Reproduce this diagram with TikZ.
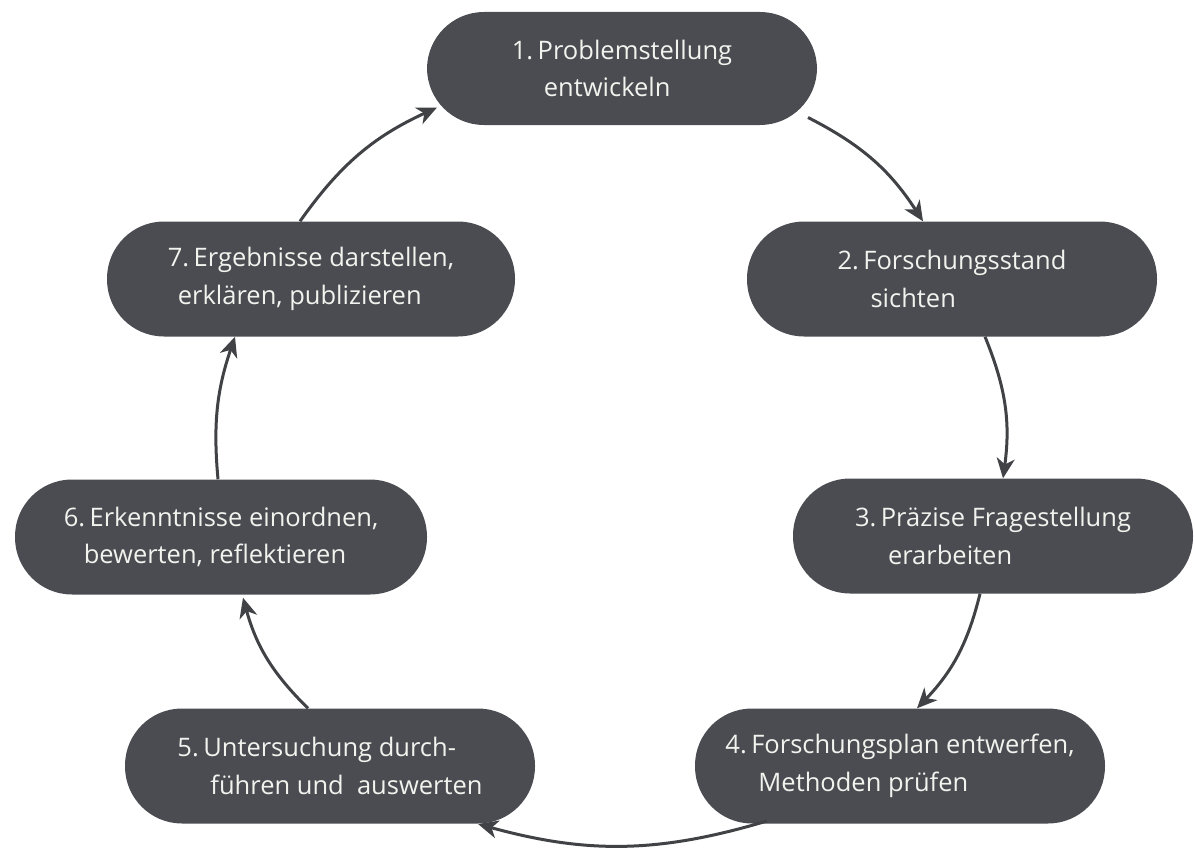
\documentclass[tikz,border=0pt]{standalone}
\usepackage{fontspec}
\setmainfont{Open Sans}
\usetikzlibrary{arrows.meta,calc}
\definecolor{boxfill}{HTML}{4A4C51}
\definecolor{arrowcol}{HTML}{404246}
\definecolor{txtcol}{HTML}{F2F2EE}
\newcommand{\nsp}{\kern4.5pt}
\tikzset{
  stepbox/.style={fill=boxfill, draw=none, rectangle, rounded corners=57pt,
    minimum height=115pt, text=txtcol, align=left, inner sep=0pt,
    font=\fontsize{25.5}{37.5}\selectfont},
  flow/.style={draw=arrowcol, line width=3pt,
    -{Stealth[length=20pt,width=18pt,inset=6pt]}}
}
\begin{document}
\begin{tikzpicture}[x=1pt,y=-1pt]
\useasboundingbox (0,0) rectangle (1195,851);
\node[stepbox, minimum width=390pt, minimum height=113pt] (n1) at (622,68.5) {1.\nsp Problemstellung\\\hspace*{32pt}entwickeln};
\node[stepbox, minimum width=410pt] (n2) at (952,279) {2.\nsp Forschungsstand\\\hspace*{33pt}sichten};
\node[stepbox, minimum width=400pt] (n3) at (993,536) {3.\nsp Präzise Fragestellung\\\hspace*{33pt}erarbeiten};
\node[stepbox, minimum width=410pt] (n4) at (900,766) {4.\nsp Forschungsplan entwerfen,\\\hspace*{33pt}Methoden prüfen};
\node[stepbox, minimum width=410pt] (n5) at (330,766) {5.\nsp Untersuchung durch-\\\hspace*{33pt}führen und~~auswerten};
\node[stepbox, minimum width=412pt] (n6) at (221,537) {6.\nsp Erkenntnisse einordnen,\\\hspace*{20pt}bewerten, reflektieren};
\node[stepbox, minimum width=408pt] (n7) at (311,279) {7.\nsp Ergebnisse darstellen,\\\hspace*{10pt}erklären, publizieren};

\draw[flow] ($(n1.center)+(186,49)$) to[bend left=15] ($(n2.north)+(-29,0)$);
\draw[flow] ($(n2.south)+(33,0)$) to[bend left=15] ($(n3.north)+(10,0)$);
\draw[flow] ($(n3.south)+(-13,0)$) to[bend left=15] ($(n4.north)+(17,0)$);
\draw[flow] ($(n4.center)+(-133,55)$) to[bend left=16] ($(n5.center)+(148,58)$);
\draw[flow] ($(n5.north)+(-22,0)$) to[bend left=15] ($(n6.south)+(22,3)$);
\draw[flow] ($(n6.north)+(-3,0)$) to[bend left=12] ($(n7.south)+(-76,0)$);
\draw[flow] ($(n7.north)+(-11,0)$) to[bend left=15] ($(n1.center)+(-185,39)$);
\end{tikzpicture}
\end{document}
